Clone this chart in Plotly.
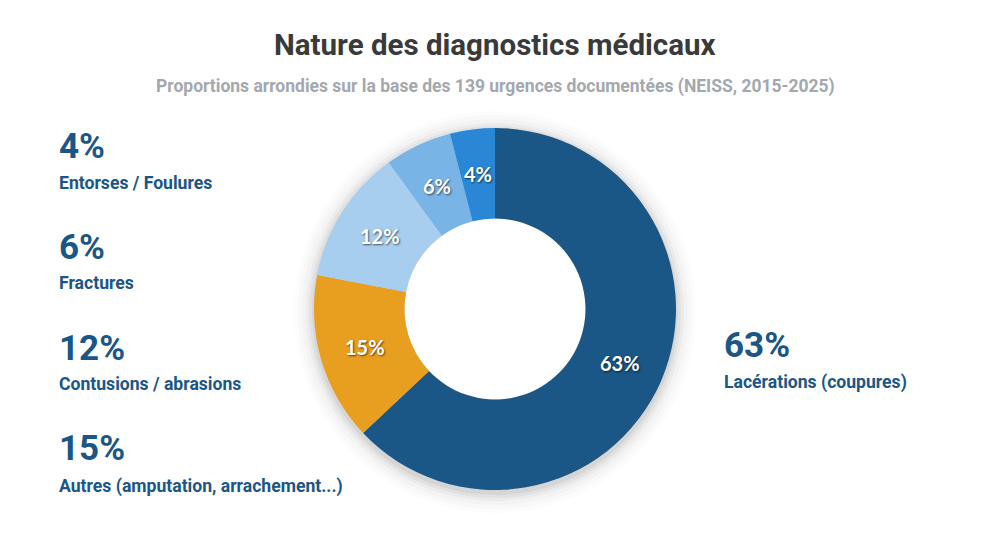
import math
import plotly.graph_objects as go

categories = ["Lacérations (coupures)", "Autres (amputation, arrachement...)",
              "Contusions / abrasions", "Fractures", "Entorses / Foulures"]
values = [63, 15, 12, 6, 4]
colors = ["#1a5686", "#e89e1f", "#a7cdef", "#79b4e6", "#2a87d5"]

title = "Nature des diagnostics médicaux"
subtitle = "Proportions arrondies sur la base des 139 urgences documentées (NEISS, 2015-2025)"

COND = "Roboto, Lato, sans-serif"
LBL = "#1a5686"

W, H = 990, 555
cx, cy, r = 495, 309, 181
HOLE = 0.5

fig = go.Figure()

# soft shadow behind donut
for dr, op in [(20, 0.012), (16, 0.015), (12, 0.02), (8, 0.03), (5, 0.04), (2, 0.05)]:
    fig.add_shape(type="circle", xref="paper", yref="paper",
                  x0=(cx - r - dr) / W, x1=(cx + r + dr) / W,
                  y0=1 - (cy + 3 + r + dr) / H, y1=1 - (cy + 3 - r - dr) / H,
                  fillcolor=f"rgba(0,0,0,{op})", line=dict(width=0), layer="below")
ri = r * HOLE
fig.add_shape(type="circle", xref="paper", yref="paper",
              x0=(cx - ri) / W, x1=(cx + ri) / W, y0=1 - (cy + ri) / H, y1=1 - (cy - ri) / H,
              fillcolor="white", line=dict(width=0), layer="below")

fig.add_trace(go.Pie(
    labels=categories, values=values, sort=False, direction="clockwise", rotation=0,
    hole=HOLE, marker=dict(colors=colors, line=dict(width=0)),
    textinfo="none", showlegend=False, hoverinfo="label+percent",
    domain=dict(x=[(cx - r) / W, (cx + r) / W], y=[1 - (cy + r) / H, 1 - (cy - r) / H]),
))

# slice labels at mid-ring, angle derived from the data
total = sum(values)
cum = 0
rm = (r + ri) / 2
for v in values:
    a = 2 * math.pi * (cum + v / 2) / total
    cum += v
    px = cx + rm * math.sin(a)
    py = cy - rm * math.cos(a)
    fig.add_annotation(x=px / W, y=1 - py / H, xref="paper", yref="paper",
                       xanchor="center", yanchor="middle", showarrow=False,
                       text=f"<b>{v}%</b>",
                       font=dict(family="Lato, Roboto, sans-serif", size=20, color="white",
                                 shadow="1px 1px 2px rgba(0,0,0,0.6)"))

# left labels: (category index, y of percent, y of label)
left = [(4, 147, 183), (3, 247, 283), (2, 348, 384), (1, 448, 486)]
for idx, yp, yl in left:
    fig.add_annotation(x=57 / W, y=1 - yp / H, xref="paper", yref="paper", xanchor="left",
                       yanchor="middle", showarrow=False, text=f"<b>{values[idx]}%</b>",
                       font=dict(family=COND, size=35, color=LBL))
    fig.add_annotation(x=57 / W, y=1 - yl / H, xref="paper", yref="paper", xanchor="left",
                       yanchor="middle", showarrow=False, text=f"<b>{categories[idx]}</b>",
                       font=dict(family=COND, size=17.6, color=LBL))

fig.add_annotation(x=722 / W, y=1 - 345 / H, xref="paper", yref="paper", xanchor="left",
                   yanchor="middle", showarrow=False, text=f"<b>{values[0]}%</b>",
                   font=dict(family=COND, size=35, color=LBL))
fig.add_annotation(x=722 / W, y=1 - 382 / H, xref="paper", yref="paper", xanchor="left",
                   yanchor="middle", showarrow=False, text=f"<b>{categories[0]}</b>",
                   font=dict(family=COND, size=17.6, color=LBL))

fig.add_annotation(x=0.5, y=1 - 45 / H, xref="paper", yref="paper", xanchor="center",
                   yanchor="middle", showarrow=False, text=f"<b>{title}</b>",
                   font=dict(family=COND, size=29.5, color="#3a3a3a"))
fig.add_annotation(x=0.5, y=1 - 87 / H, xref="paper", yref="paper", xanchor="center",
                   yanchor="middle", showarrow=False, text=f"<b>{subtitle}</b>",
                   font=dict(family=COND, size=17.5, color="#a3a7ae"))

fig.update_layout(width=W, height=H, margin=dict(l=0, r=0, t=0, b=0),
                  paper_bgcolor="white", plot_bgcolor="white")

fig.write_html("out.html")
